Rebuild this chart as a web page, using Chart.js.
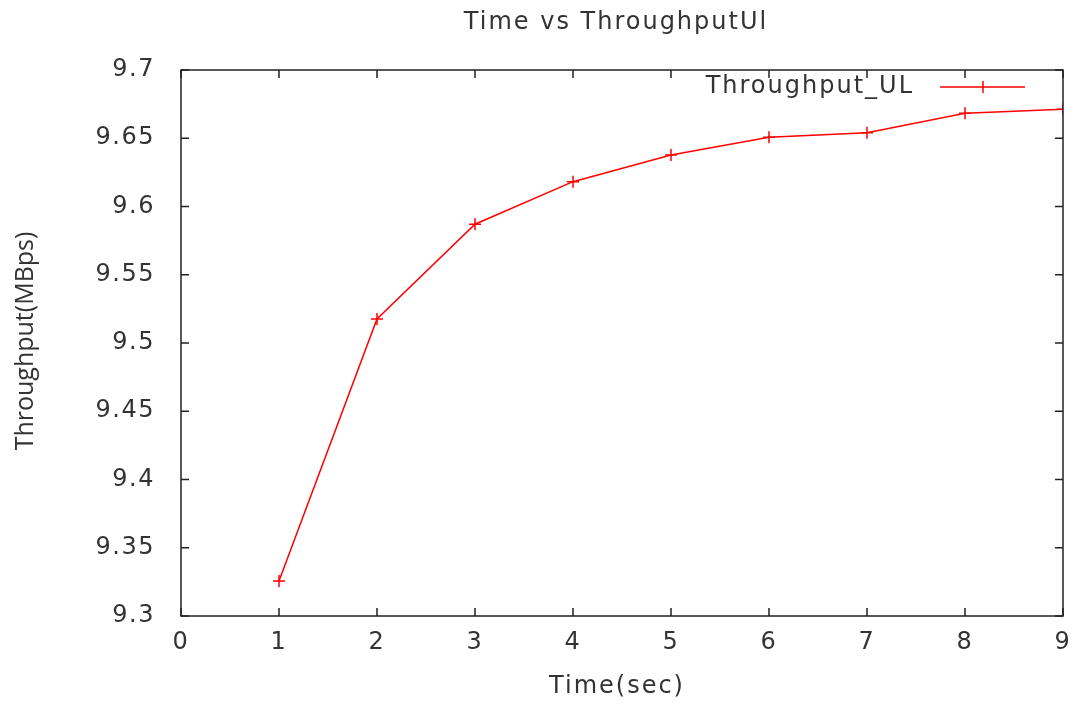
<!DOCTYPE html>
<html>
<head>
<meta charset="utf-8">
<script src="https://cdn.jsdelivr.net/npm/chart.js@4"></script>
<style>
  html, body { margin: 0; padding: 0; background: #fff; }
  #wrap { width: 1077px; height: 704px; }
</style>
</head>
<body>
<div id="wrap"><canvas id="throughputChart"></canvas></div>
<script>
// dữ liệu
const timeSec = [1, 2, 3, 4, 5, 6, 7, 8, 9, 10];
const throughputUL = [9.3256, 9.5176, 9.587, 9.6182, 9.6377, 9.6507, 9.654, 9.6683, 9.6712, 9.674];
const xTicks = [0, 1, 2, 3, 4, 5, 6, 7, 8, 9];
const yTicks = [9.3, 9.35, 9.4, 9.45, 9.5, 9.55, 9.6, 9.65, 9.7];

const FONT = "'DejaVu Sans', sans-serif";
const TEXT = '#333';

// giãn chữ cho giống font gốc
const spacing = {
    id: 'spacing',
    beforeDraw(chart) { chart.ctx.letterSpacing = '1.5px'; }
};

// khung, vạch chia hướng vào trong, tiêu đề và chú thích kiểu gnuplot
const gnuplotFrame = {
    id: 'gnuplotFrame',
    afterDatasetsDraw(chart) {
        const { ctx, chartArea: a, scales } = chart;
        ctx.save();
        ctx.strokeStyle = '#222';
        ctx.lineWidth = 1.5;
        ctx.strokeRect(a.left, a.top, a.right - a.left, a.bottom - a.top);
        const len = 8;
        ctx.beginPath();
        xTicks.forEach(v => {
            const px = scales.x.getPixelForValue(v);
            ctx.moveTo(px, a.bottom); ctx.lineTo(px, a.bottom - len);
            ctx.moveTo(px, a.top); ctx.lineTo(px, a.top + len);
        });
        yTicks.forEach(v => {
            const py = scales.y.getPixelForValue(v);
            ctx.moveTo(a.left, py); ctx.lineTo(a.left + len, py);
            ctx.moveTo(a.right, py); ctx.lineTo(a.right - len, py);
        });
        ctx.stroke();

        const cx = (a.left + a.right) / 2;
        ctx.fillStyle = TEXT;
        ctx.textBaseline = 'middle';

        // tiêu đề
        ctx.letterSpacing = '2px';
        ctx.font = '24px ' + FONT;
        ctx.textAlign = 'center';
        ctx.fillText('Time vs ThroughputUl', cx - 6, 23);

        // tên trục x
        ctx.fillText('Time(sec)', cx - 5, 687);

        // tên trục y
        ctx.letterSpacing = '0px';
        ctx.save();
        ctx.translate(26, (a.top + a.bottom) / 2 - 2);
        ctx.rotate(-Math.PI / 2);
        ctx.font = "25px 'Open Sans', sans-serif";
        ctx.fillText('Throughput(MBps)', 0, 0);
        ctx.restore();

        // chú thích
        const ly = a.top + 17;
        ctx.letterSpacing = '2px';
        ctx.font = '24px ' + FONT;
        ctx.textAlign = 'right';
        ctx.fillText('Throughput_UL', a.right - 149, ly);
        ctx.strokeStyle = 'rgb(255,0,0)';
        ctx.lineWidth = 1.5;
        ctx.beginPath();
        ctx.moveTo(a.right - 123, ly); ctx.lineTo(a.right - 38, ly);
        ctx.moveTo(a.right - 80, ly - 6); ctx.lineTo(a.right - 80, ly + 6);
        ctx.moveTo(a.right - 86, ly); ctx.lineTo(a.right - 74, ly);
        ctx.stroke();
        ctx.restore();
    }
};

const ctx = document.getElementById('throughputChart').getContext('2d');
const chart = new Chart(ctx, {
    type: 'line',
    data: {
        datasets: [{
            label: 'Throughput_UL',
            data: timeSec.map((t, i) => ({ x: t, y: throughputUL[i] })),
            borderColor: 'rgb(255,0,0)',
            backgroundColor: 'rgb(255,0,0)',
            borderWidth: 1.5,
            pointStyle: 'cross',
            pointRadius: 6,
            pointBorderWidth: 1.5,
            fill: false,
            tension: 0
        }]
    },
    options: {
        responsive: true,
        maintainAspectRatio: false,
        animation: false,
        layout: { padding: { left: 0, right: 14, top: 70, bottom: 0 } },
        plugins: {
            legend: { display: false },
            tooltip: { enabled: false }
        },
        scales: {
            x: {
                type: 'linear',
                min: 0,
                max: 9,
                afterBuildTicks: s => { s.ticks = xTicks.map(v => ({ value: v })); },
                afterFit: s => { s.height = 88; s.paddingLeft = 0; s.paddingRight = 0; },
                grid: { display: false, drawTicks: false },
                border: { display: false },
                ticks: { color: TEXT, font: { family: FONT, size: 24 }, padding: 12 }
            },
            y: {
                min: 9.3,
                max: 9.7,
                afterBuildTicks: s => { s.ticks = yTicks.map(v => ({ value: v })); },
                afterFit: s => { s.width = 181; s.paddingTop = 0; s.paddingBottom = 0; },
                grid: { display: false, drawTicks: false },
                border: { display: false },
                ticks: {
                    color: TEXT,
                    font: { family: FONT, size: 24 },
                    padding: 26,
                    callback: v => String(Number(v.toFixed(2)))
                }
            }
        }
    },
    plugins: [spacing, gnuplotFrame]
});
</script>
</body>
</html>
